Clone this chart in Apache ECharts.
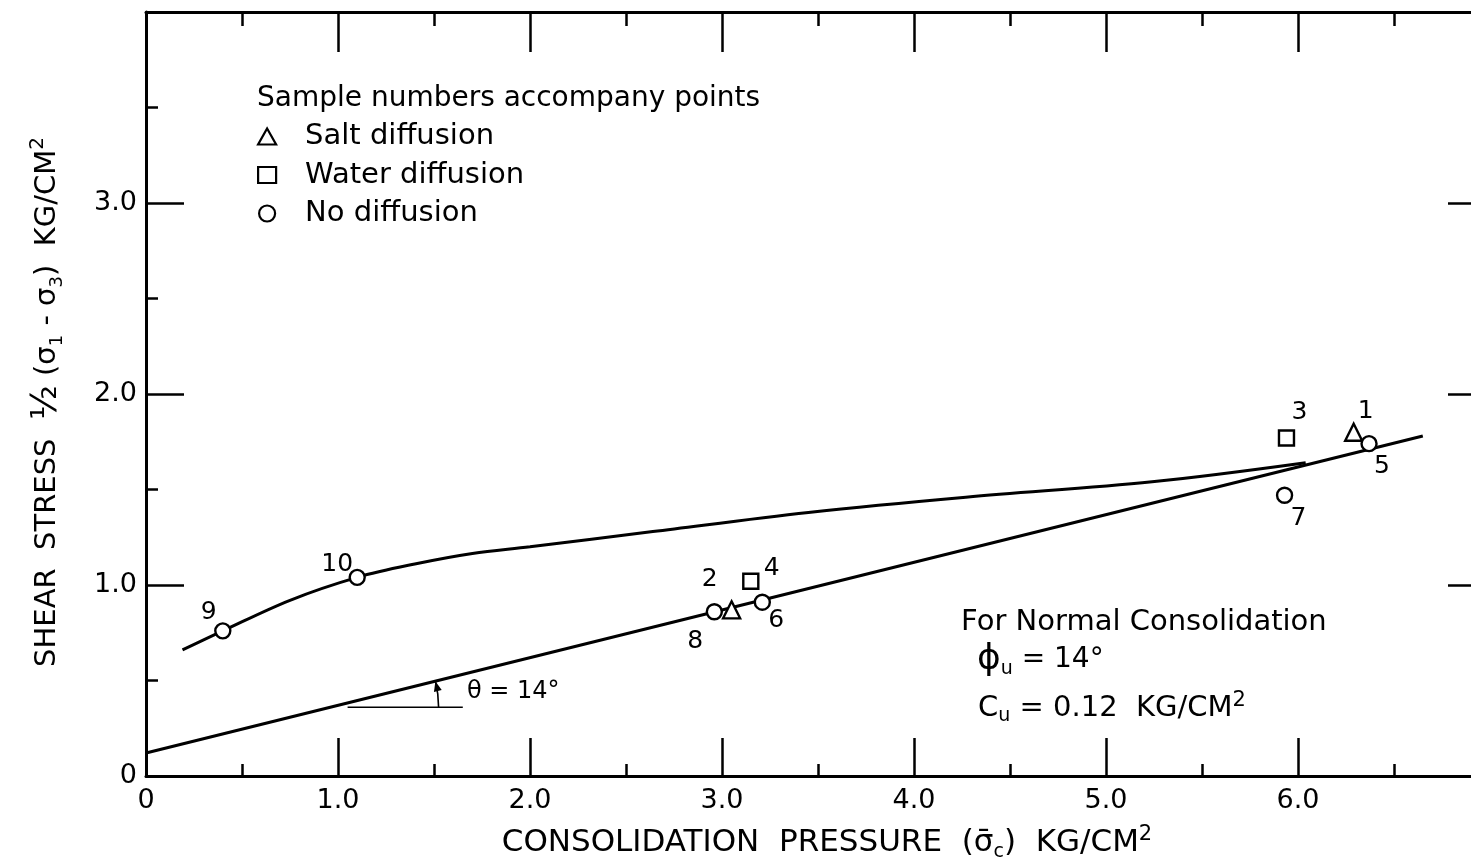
<!DOCTYPE html>
<html>
<head>
<meta charset="utf-8">
<script src="https://cdn.jsdelivr.net/npm/echarts@6/dist/echarts.min.js"></script>
<style>
  html, body { margin: 0; padding: 0; background: #fff; }
  #chart { width: 1471px; height: 864px; }
</style>
</head>
<body>
<div id="chart"></div>
<script>
// Tick labels
const xTickLabels = ['0', '1.0', '2.0', '3.0', '4.0', '5.0', '6.0'];
const yTickLabels = ['0', '1.0', '2.0', '3.0'];

// Test points: [consolidation pressure, shear stress, sample number]
const saltDiffusion = [[3.05, 0.87, '2'], [6.29, 1.80, '1']];
const waterDiffusion = [[3.15, 1.02, '4'], [5.94, 1.77, '3']];
const noDiffusion = [
  [0.40, 0.76, '9'], [1.10, 1.04, '10'], [2.96, 0.86, '8'],
  [3.21, 0.91, '6'], [5.93, 1.47, '7'], [6.37, 1.74, '5']
];

// Normal consolidation envelope (c = 0.12, phi = 14 deg)
const normalConsolidationLine = [[0, 0.12], [6.65, 1.78]];

// Envelope drawn through the lightly loaded samples
const upperCurve = [
  [0.19, 0.66], [0.40, 0.76], [0.75, 0.92], [1.10, 1.04], [1.40, 1.11],
  [1.70, 1.165], [2.00, 1.20], [2.64, 1.28], [3.45, 1.38], [4.27, 1.46],
  [5.24, 1.54], [6.04, 1.64]
];

// Horizontal leg of the angle marker
const thetaBase = [[1.05, 0.36], [1.65, 0.36]];

const FONT = 'DejaVu Sans';
const INK = '#000';

// Where each sample number sits relative to its marker (px)
const labelOffsets = {
  '1': [12, -21], '2': [-22, -30], '3': [13, -25], '4': [21, -13], '5': [13, 23],
  '6': [14, 18], '7': [14, 23], '8': [-19, 30], '9': [-14, -18], '10': [-20, -13]
};

function toPoints(list) {
  return list.map(p => ({
    value: [p[0], p[1]],
    name: p[2],
    label: { offset: labelOffsets[p[2]] }
  }));
}

const markerStyle = { color: '#fff', borderColor: INK, borderWidth: 2.4, opacity: 1 };
const pointLabel = {
  show: true, position: 'inside', formatter: '{b}',
  color: INK, opacity: 1, fontSize: 25, fontFamily: FONT
};

const frameLine = { show: true, onZero: false, lineStyle: { color: INK, width: 3 } };

function frameAxis(extra) {
  return Object.assign({
    type: 'value',
    axisLine: frameLine,
    axisTick: { show: true, inside: true, length: 38, lineStyle: { color: INK, width: 2.5 } },
    minorTick: { show: true, splitNumber: 2, length: 12, lineStyle: { color: INK, width: 2.5 } },
    splitLine: { show: false },
    minorSplitLine: { show: false }
  }, extra);
}

const chart = echarts.init(document.getElementById('chart'), null, { renderer: 'canvas' });

const option = {
  animation: false,
  backgroundColor: '#fff',
  title: {
    text: 'Sample numbers accompany points',
    left: 252, top: 80,
    textStyle: { fontFamily: FONT, fontSize: 28, fontWeight: 'normal', color: INK }
  },
  legend: {
    orient: 'vertical',
    left: 252, top: 117,
    itemWidth: 18, itemHeight: 16, itemGap: 9.5,
    selectedMode: false,
    data: [
      { name: 'Salt diffusion', icon: 'triangle' },
      { name: 'Water diffusion', icon: 'rect' },
      { name: 'No diffusion', icon: 'circle' }
    ],
    itemStyle: { color: '#fff', borderColor: INK, borderWidth: 2.2, opacity: 1 },
    textStyle: { fontFamily: FONT, fontSize: 29, color: INK, padding: [0, 0, 0, 24] }
  },
  grid: { left: 146, top: 12, width: 1344, height: 764, containLabel: false, outerBoundsMode: 'none' },
  xAxis: [
    frameAxis({
      position: 'bottom', min: 0, max: 7, interval: 1,
      axisLabel: {
        margin: 11, fontSize: 27, fontFamily: FONT, color: INK,
        formatter: v => xTickLabels[Math.round(v)] ?? ''
      },
      name: 'CONSOLIDATION  PRESSURE  ({g|σ̄}{s|c})  KG/CM{p|2}',
      nameLocation: 'middle', nameGap: 48,
      nameTextStyle: {
        fontFamily: FONT, fontSize: 31, color: INK, lineHeight: 38,
        padding: [0, 0, 0, 18],
        rich: {
          g: { fontFamily: FONT, fontSize: 31, color: INK, lineHeight: 38 },
          s: { fontFamily: FONT, fontSize: 19, color: INK, verticalAlign: 'bottom' },
          p: { fontFamily: FONT, fontSize: 21, color: INK, verticalAlign: 'top' }
        }
      }
    }),
    frameAxis({
      position: 'top', min: 0, max: 7, interval: 1,
      axisTick: { show: true, inside: true, length: 40, lineStyle: { color: INK, width: 2.5 } },
      minorTick: { show: true, splitNumber: 2, length: 14, lineStyle: { color: INK, width: 2.5 } },
      axisLabel: { show: false }
    })
  ],
  yAxis: [
    frameAxis({
      position: 'left', min: 0, max: 4, interval: 1,
      axisLabel: {
        margin: 9, fontSize: 27, fontFamily: FONT, color: INK,
        formatter: v => yTickLabels[Math.round(v)] ?? ''
      }
    }),
    frameAxis({
      position: 'right', min: 0, max: 4, interval: 1,
      axisTick: { show: true, inside: true, length: 42, lineStyle: { color: INK, width: 2.5 } },
      axisLabel: { show: false }
    })
  ],
  series: [
    {
      name: 'Normal consolidation', type: 'line', data: normalConsolidationLine,
      symbol: 'none', silent: true, z: 2,
      lineStyle: { color: INK, width: 3 }
    },
    {
      name: 'Upper envelope', type: 'line', data: upperCurve,
      symbol: 'none', smooth: 0.35, silent: true, z: 2,
      lineStyle: { color: INK, width: 3 }
    },
    {
      name: 'Angle base', type: 'line', data: thetaBase,
      symbol: 'none', silent: true, z: 2,
      lineStyle: { color: INK, width: 1.6 }
    },
    {
      name: 'Salt diffusion', type: 'scatter', data: toPoints(saltDiffusion),
      symbol: 'triangle', symbolSize: 17, z: 5,
      itemStyle: markerStyle, label: pointLabel
    },
    {
      name: 'Water diffusion', type: 'scatter', data: toPoints(waterDiffusion),
      symbol: 'rect', symbolSize: 15, z: 5,
      itemStyle: markerStyle, label: pointLabel
    },
    {
      name: 'No diffusion', type: 'scatter', data: toPoints(noDiffusion),
      symbol: 'circle', symbolSize: 15, z: 5,
      itemStyle: markerStyle, label: pointLabel
    }
  ]
};

chart.setOption(option);

// Angle marker: arc between the base leg and the envelope, with an arrowhead
const [l0, l1] = normalConsolidationLine;
const baseY = thetaBase[0][1];
const vertexX = l0[0] + (baseY - l0[1]) / (l1[1] - l0[1]) * (l1[0] - l0[0]);
const vertex = chart.convertToPixel({ gridIndex: 0 }, [vertexX, baseY]);
const p0 = chart.convertToPixel({ gridIndex: 0 }, l0);
const p1 = chart.convertToPixel({ gridIndex: 0 }, l1);
const ang = Math.atan2(p0[1] - p1[1], p1[0] - p0[0]);
const r = 108;
const tip = [vertex[0] + r * Math.cos(-ang), vertex[1] + r * Math.sin(-ang)];
const dir = [-Math.sin(ang), -Math.cos(ang)];
const nrm = [-dir[1], dir[0]];
const back = [tip[0] - dir[0] * 10, tip[1] - dir[1] * 10];

const yTitle = 'SHEAR  STRESS  {f|½} ({g|σ}{s|1} - {g|σ}{s|3})  KG/CM{p|2}';

chart.setOption({
  graphic: [
    {
      type: 'arc', silent: true,
      shape: { cx: vertex[0], cy: vertex[1], r: r, startAngle: -ang, endAngle: 0, clockwise: true },
      style: { stroke: INK, lineWidth: 1.6, fill: null }
    },
    {
      type: 'polygon', silent: true,
      shape: { points: [tip, [back[0] + nrm[0] * 4, back[1] + nrm[1] * 4], [back[0] - nrm[0] * 4, back[1] - nrm[1] * 4]] },
      style: { fill: INK }
    },
    {
      type: 'text', silent: true, x: 467, y: 692,
      style: { text: 'θ = 14°', fontFamily: FONT, fontSize: 24, fill: INK, verticalAlign: 'middle' }
    },
    {
      type: 'text', silent: true, x: 961, y: 622,
      style: { text: 'For Normal Consolidation', fontFamily: FONT, fontSize: 29, fill: INK, verticalAlign: 'middle' }
    },
    {
      type: 'text', silent: true, x: 977, y: 660,
      style: {
        text: '{b|ϕ}{s|u} = 14°', fontFamily: FONT, fontSize: 28, fill: INK, lineHeight: 38, verticalAlign: 'middle',
        rich: {
          b: { fontFamily: FONT, fontSize: 36, fill: INK, lineHeight: 38 },
          s: { fontFamily: FONT, fontSize: 19, fill: INK, verticalAlign: 'bottom' }
        }
      }
    },
    {
      type: 'text', silent: true, x: 978, y: 708,
      style: {
        text: 'C{s|u} = 0.12  KG/CM{p|2}', fontFamily: FONT, fontSize: 29, fill: INK, lineHeight: 36, verticalAlign: 'middle',
        rich: {
          s: { fontFamily: FONT, fontSize: 19, fill: INK, verticalAlign: 'bottom' },
          p: { fontFamily: FONT, fontSize: 21, fill: INK, verticalAlign: 'top' }
        }
      }
    },
    {
      type: 'text', silent: true, x: 47, y: 402, rotation: Math.PI / 2,
      style: {
        text: yTitle, fontFamily: FONT, fontSize: 29, fill: INK, lineHeight: 38,
        align: 'center', verticalAlign: 'middle',
        rich: {
          f: { fontFamily: FONT, fontSize: 36, fill: INK, lineHeight: 38 },
          g: { fontFamily: FONT, fontSize: 29, fill: INK, lineHeight: 38 },
          s: { fontFamily: FONT, fontSize: 18, fill: INK, verticalAlign: 'bottom' },
          p: { fontFamily: FONT, fontSize: 20, fill: INK, verticalAlign: 'top' }
        }
      }
    }
  ]
});
</script>
</body>
</html>
